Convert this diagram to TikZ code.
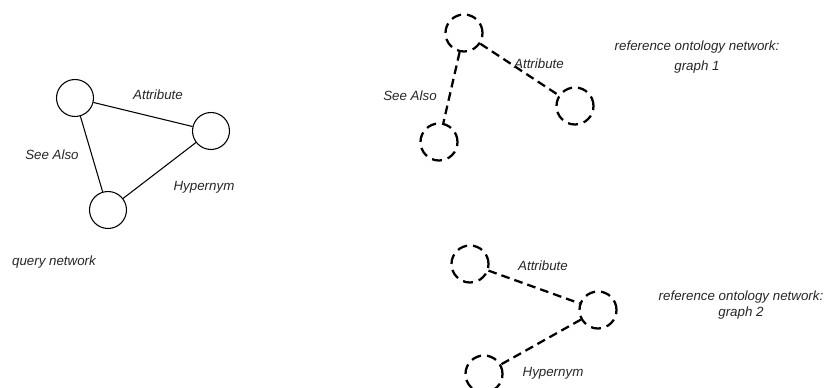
\documentclass[tikz,border=0pt]{standalone}
\usepackage{fontspec}
\setmainfont{Liberation Sans}
\begin{document}
\begin{tikzpicture}[x=0.75pt,y=-0.75pt,
  lbl/.style={font=\fontsize{10}{12}\selectfont\itshape, inner sep=0pt, text=black!85},
  qnode/.style={circle, draw, line width=0.8pt, minimum size=37*0.75pt, inner sep=0pt},
  rnode/.style={circle, draw, line width=1.7pt, dash pattern=on 7.5pt off 4.5pt, minimum size=37*0.75pt, inner sep=0pt},
  qedge/.style={line width=0.8pt},
  redge/.style={line width=1.7pt, dash pattern=on 6.5pt off 3.8pt}]
\useasboundingbox (0,0) rectangle (826,388);
% query network
\node[qnode] (qa) at (75,98) {};
\node[qnode] (qb) at (211,131) {};
\node[qnode] (qc) at (108,210) {};
\draw[qedge] (qa) -- (qb);
\draw[qedge] (qa) -- (qc);
\draw[qedge] (qc) -- (qb);
\node[lbl] (lqa) at (158,95) {Attribute};
\node[lbl] (lqs) at (52,155) {See Also};
\node[lbl] (lqh) at (204,187) {Hypernym};
\node[lbl] (lq) at (54,262) {query network};
% graph 1
\node[rnode] (ga) at (464,33) {};
\node[rnode] (gb) at (575,106) {};
\node[rnode] (gc) at (439,142) {};
\draw[redge] (ga) -- (gb);
\draw[redge] (ga) -- (gc);
\node[lbl] (lga) at (539,64) {Attribute};
\node[lbl] (lgs) at (410,96) {See Also};
\node[lbl, align=center] (lg1) at (697,57) {reference ontology network:\\[3pt] graph 1};
% graph 2
\node[rnode] (ha) at (470,264) {};
\node[rnode] (hb) at (598,310) {};
\node[rnode] (hc) at (484,374) {};
\draw[redge] (ha) -- (hb);
\draw[redge] (hb) -- (hc);
\node[lbl] (lha) at (543,266) {Attribute};
\node[lbl] (lhh) at (553,373) {Hypernym};
\node[lbl, align=center] (lg2) at (741,305) {reference ontology network:\\ graph 2};
\end{tikzpicture}
\end{document}
